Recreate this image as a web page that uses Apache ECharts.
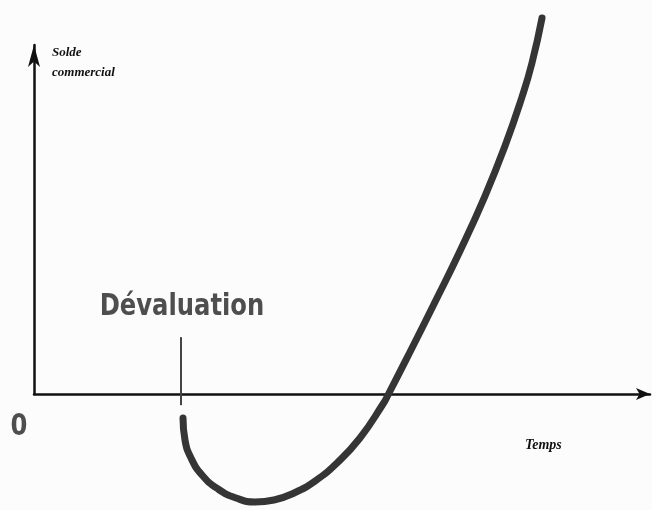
<!DOCTYPE html>
<html>
<head>
<meta charset="utf-8">
<script src="https://cdn.jsdelivr.net/npm/echarts@6/dist/echarts.min.js"></script>
<style>
html,body{margin:0;padding:0;background:#fdfcfd;}
#chart{width:652px;height:510px;}
</style>
</head>
<body>
<div id="chart"></div>
<script>
// J-curve (time, trade balance)
const timeValues = [24.19, 24.51, 25.49, 27.27, 29.87, 32.79, 35.88, 38.96, 42.21, 45.62, 49.19, 52.92, 56.66, 57.47, 61.04, 65.10, 69.16, 73.21, 76.46, 79.22, 80.84, 82.47];
const balanceValues = [-6.88, -13.18, -18.34, -23.21, -27.22, -29.80, -30.95, -30.37, -28.37, -24.93, -19.77, -12.61, -2.87, -0.29, 12.03, 26.36, 40.97, 56.73, 71.06, 85.10, 94.84, 107.74];
const devaluationTime = 23.86;
const devaluationMarker = [16.3, -3.2];
const yAxisTitle = ['Solde', 'commercial'];
const xAxisTitle = 'Temps';
const eventLabel = 'Dévaluation';
const originLabel = '0';

const curve = timeValues.map((t, i) => [t, balanceValues[i]]);
const marker = devaluationMarker.map(v => [devaluationTime, v]);

const chart = echarts.init(document.getElementById('chart'), null, {renderer: 'canvas'});
chart.setOption({
  backgroundColor: '#fdfcfd',
  animation: false,
  grid: {left: 34, right: 2, top: 45, bottom: 116},
  xAxis: {
    type: 'value', min: 0, max: 100,
    axisLine: {show: true, onZero: false, lineStyle: {color: '#111', width: 2.5}, symbol: ['none', 'arrow'], symbolSize: [9, 14]},
    axisTick: {show: false}, axisLabel: {show: false}, splitLine: {show: false}
  },
  yAxis: {
    type: 'value', min: 0, max: 100,
    axisLine: {show: true, onZero: false, lineStyle: {color: '#111', width: 2.5}, symbol: ['none', 'arrow'], symbolSize: [9, 22]},
    axisTick: {show: false}, axisLabel: {show: false}, splitLine: {show: false}
  },
  series: [
    {
      type: 'line', data: curve, smooth: 0.5, showSymbol: false, clip: false,
      lineStyle: {color: '#353535', width: 7, cap: 'round', join: 'round'}, z: 3
    },
    {
      type: 'line', data: marker, showSymbol: false, clip: false,
      lineStyle: {color: '#444', width: 2}, z: 4
    }
  ],
  graphic: [
    {type: 'text', left: 52, top: 46, style: {text: yAxisTitle[0], font: 'italic bold 13px "Liberation Serif"', fill: '#111'}},
    {type: 'text', left: 52, top: 66, style: {text: yAxisTitle[1], font: 'italic bold 13px "Liberation Serif"', fill: '#111'}},
    {type: 'text', left: 525, top: 438, style: {text: xAxisTitle, font: 'italic bold 14px "Liberation Serif"', fill: '#111'}},
    {type: 'text', x: 182, y: 307, scaleX: 0.87, style: {text: eventLabel, font: 'bold 31px "DejaVu Sans Condensed", sans-serif', fill: '#4e4e4e', align: 'center', verticalAlign: 'middle'}},
    {type: 'text', x: 19, y: 427, scaleX: 0.9, style: {text: originLabel, font: 'bold 30px "DejaVu Sans Condensed", sans-serif', fill: '#4e4e4e', align: 'center', verticalAlign: 'middle'}}
  ]
});
</script>
</body>
</html>
